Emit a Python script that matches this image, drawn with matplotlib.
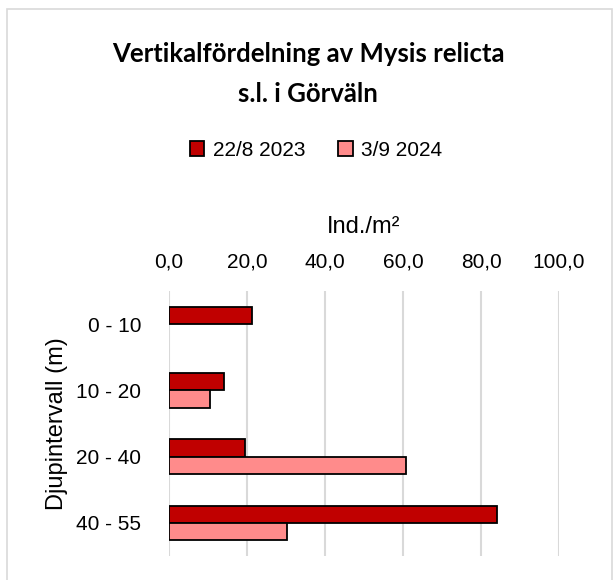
import numpy as np
import matplotlib.pyplot as plt
from matplotlib.patches import Rectangle, Patch

depths = ['0 - 10', '10 - 20', '20 - 40', '40 - 55']
vals_2023 = [21.4, 14.2, 19.6, 84.0]
vals_2024 = [0.0, 10.5, 60.8, 30.3]
series_labels = ['22/8 2023', '3/9 2024']
colors = ['#C00000', '#FF8B8B']
xticks = [0, 20, 40, 60, 80, 100]

plt.rcParams['font.family'] = ['Liberation Sans', 'DejaVu Sans']

fig = plt.figure(figsize=(6.16, 5.80), dpi=100)

# chart frame
fig.patches.append(Rectangle((7 / 616, -0.02), 605 / 616, 0.02 + 571 / 580,
                             transform=fig.transFigure, fill=False,
                             edgecolor='#D9D9D9', linewidth=1.2))

ax = fig.add_axes([169 / 616, 24 / 580, 390 / 616, 265 / 580])

y = np.arange(len(depths))
h = 0.26
for vals, off, col in [(vals_2023, -h / 2, colors[0]), (vals_2024, h / 2, colors[1])]:
    bars = ax.barh(y + off, vals, height=h, color=col, edgecolor='black',
                   linewidth=1.3, zorder=3)
    for b, v in zip(bars, vals):
        if v == 0:
            b.set_linewidth(0)

ax.set_xlim(0, 100)
ax.set_ylim(3.5, -0.5)
ax.set_xticks(xticks)
ax.set_xticklabels([f'{v:.1f}'.replace('.', ',') for v in xticks], fontsize=15)
ax.set_yticks(y)
ax.set_yticklabels(depths, fontsize=15)
ax.xaxis.tick_top()
ax.xaxis.set_label_position('top')
ax.tick_params(axis='y', length=0, pad=20)
ax.tick_params(axis='x', length=0, pad=14)
ax.grid(axis='x', color='#D9D9D9', linewidth=1.5, zorder=0)
for s in ['top', 'right', 'bottom', 'left']:
    ax.spines[s].set_visible(False)

ax.set_xlabel('Ind./m²', fontsize=17, labelpad=14)
ax.set_ylabel('Djupintervall (m)', fontsize=17, labelpad=6)

fig.text(308 / 616, 1 - 74 / 580, 'Vertikalfördelning av Mysis relicta\ns.l. i Görväln',
         ha='center', va='center', fontsize=18.5, fontweight='bold',
         family=['Lato', 'DejaVu Sans'], linespacing=1.85)

handles = [Patch(facecolor=c, edgecolor='black', linewidth=1.3) for c in colors]
fig.legend(handles, series_labels, loc='center',
           bbox_to_anchor=(316 / 616, 1 - 150 / 580), ncol=2,
           frameon=False, fontsize=15, handlelength=0.7, handleheight=0.7,
           handletextpad=0.4, columnspacing=1.6)

fig.savefig('out.png', dpi=100)
